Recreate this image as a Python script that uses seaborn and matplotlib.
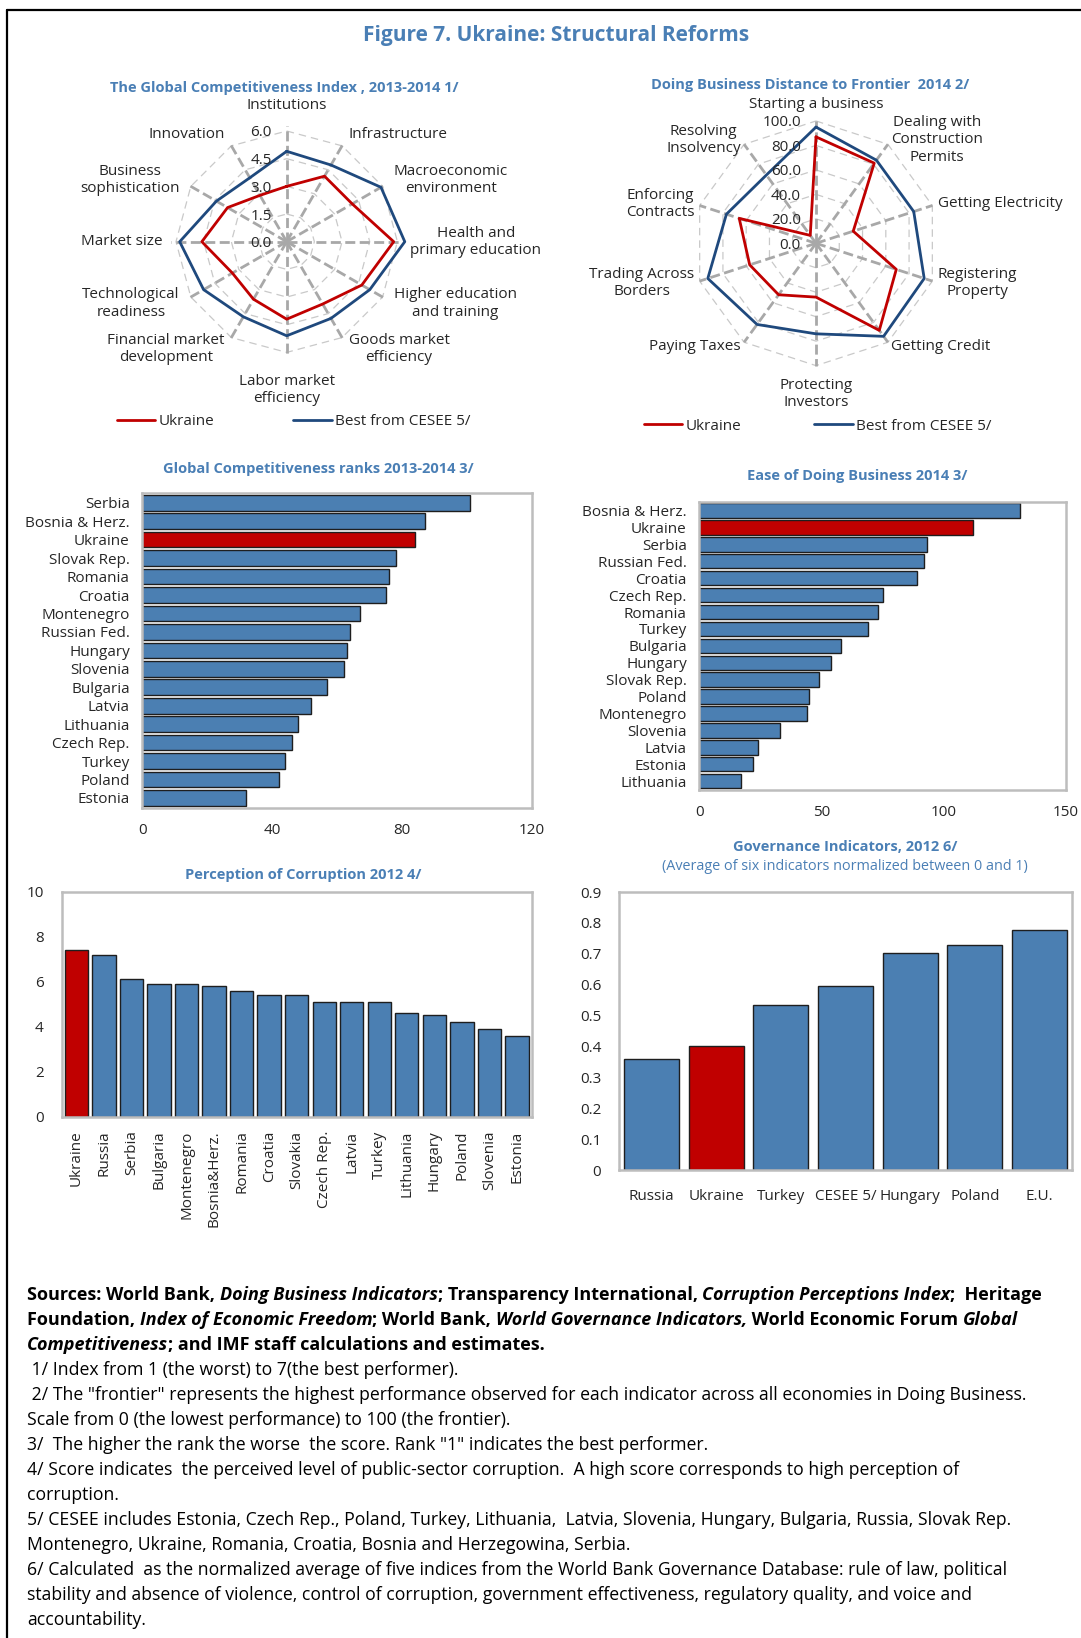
import numpy as np
import pandas as pd
import matplotlib
matplotlib.use("Agg")
import matplotlib.pyplot as plt
import matplotlib.transforms as mtransforms
from matplotlib.lines import Line2D
import seaborn as sns

# ---------------- data ----------------
gci_pillars = ["Institutions", "Infrastructure", "Macroeconomic\nenvironment",
               "Health and\nprimary education", "Higher education\nand training",
               "Goods market\nefficiency", "Labor market\nefficiency",
               "Financial market\ndevelopment", "Technological\nreadiness",
               "Market size", "Business\nsophistication", "Innovation"]
gci_ukraine = [3.0, 4.1, 4.1, 5.8, 4.7, 3.9, 4.2, 3.6, 3.4, 4.6, 3.7, 2.9]
gci_best = [4.9, 4.8, 5.9, 6.4, 5.2, 4.8, 5.1, 4.7, 5.2, 5.8, 4.4, 4.0]
gci_ticks = [0.0, 1.5, 3.0, 4.5, 6.0]

db_topics = ["Starting a business", "Dealing with\nConstruction\nPermits",
             "Getting Electricity", "Registering\nProperty", "Getting Credit",
             "Protecting\nInvestors", "Paying Taxes", "Trading Across\nBorders",
             "Enforcing\nContracts", "Resolving\nInsolvency"]
db_ukraine = [87, 81, 32, 69, 88, 44, 52, 57, 66, 8]
db_best = [95, 84, 84, 93, 94, 74, 82, 93, 77, 69]
db_ticks = [0, 20, 40, 60, 80, 100]

gcr_countries = ["Serbia", "Bosnia & Herz.", "Ukraine", "Slovak Rep.", "Romania",
                 "Croatia", "Montenegro", "Russian Fed.", "Hungary", "Slovenia",
                 "Bulgaria", "Latvia", "Lithuania", "Czech Rep.", "Turkey",
                 "Poland", "Estonia"]
gcr_ranks = [101, 87, 84, 78, 76, 75, 67, 64, 63, 62, 57, 52, 48, 46, 44, 42, 32]
gcr_xticks = [0, 40, 80, 120]

edb_countries = ["Bosnia & Herz.", "Ukraine", "Serbia", "Russian Fed.", "Croatia",
                 "Czech Rep.", "Romania", "Turkey", "Bulgaria", "Hungary",
                 "Slovak Rep.", "Poland", "Montenegro", "Slovenia", "Latvia",
                 "Estonia", "Lithuania"]
edb_ranks = [131, 112, 93, 92, 89, 75, 73, 69, 58, 54, 49, 45, 44, 33, 24, 22, 17]
edb_xticks = [0, 50, 100, 150]

cpi_countries = ["Ukraine", "Russia", "Serbia", "Bulgaria", "Montenegro",
                 "Bosnia&Herz.", "Romania", "Croatia", "Slovakia", "Czech Rep.",
                 "Latvia", "Turkey", "Lithuania", "Hungary", "Poland",
                 "Slovenia", "Estonia"]
cpi_scores = [7.4, 7.2, 6.1, 5.9, 5.9, 5.8, 5.6, 5.4, 5.4, 5.1, 5.1, 5.1, 4.6,
              4.5, 4.2, 3.9, 3.6]
cpi_yticks = [0, 2, 4, 6, 8, 10]

gov_labels = ["Russia", "Ukraine", "Turkey", "CESEE 5/", "Hungary", "Poland", "E.U."]
gov_scores = [0.36, 0.40, 0.535, 0.595, 0.703, 0.727, 0.777]
gov_yticks = [0, 0.1, 0.2, 0.3, 0.4, 0.5, 0.6, 0.7, 0.8, 0.9]

# ---------------- style ----------------
sns.set_style("white")
FONT = "Open Sans"
plt.rcParams["font.family"] = [FONT, "DejaVu Sans"]
FS = 11
SUB_FS = 10.5
TITLE_C = "#4a7fb5"
BLUE = "#4b7fb2"
RED = "#c00000"
NAVY = "#1f497d"
EDGE = "#1e1e1e"
FRAME = "#bdbdbd"

W, H = 1081, 1638
fig = plt.figure(figsize=(W / 100, H / 100), dpi=100)
fig.patch.set_facecolor("white")


def box(left, top, right, bottom):
    return [left / W, 1 - bottom / H, (right - left) / W, (bottom - top) / H]


def fx(x):
    return x / W


def fy(y):
    return 1 - y / H


# page frame (top and left rules)
fig.add_artist(Line2D([fx(7), 1.0], [fy(10), fy(10)], transform=fig.transFigure,
                      color="black", lw=1.6))
fig.add_artist(Line2D([fx(7), fx(7)], [0, fy(10)], transform=fig.transFigure,
                      color="black", lw=1.6))

fig.text(fx(556), fy(35), "Figure 7. Ukraine: Structural Reforms", ha="center",
         va="center", fontsize=15, fontweight="bold", color=TITLE_C)


# ---------------- radar charts ----------------
def radar(cx, cy, px_per_unit, rmax, labels, ukr, best, ticks, spoke_len,
          side_r, top_r, bottom_r, title, title_xy, legend_y, legend_x, colsp):
    half = rmax * px_per_unit
    ax = fig.add_axes(box(cx - half, cy - half, cx + half, cy + half),
                      projection="polar")
    ax.set_theta_zero_location("N")
    ax.set_theta_direction(-1)
    ax.set_ylim(0, rmax)
    ax.grid(False)
    ax.set_xticks([])
    ax.set_yticks([])
    ax.spines["polar"].set_visible(False)
    ax.patch.set_alpha(0)

    n = len(labels)
    theta = np.linspace(0, 2 * np.pi, n, endpoint=False)
    closed = np.append(theta, theta[0] + 2 * np.pi)

    for t in ticks[1:]:
        ax.plot(closed, [t] * (n + 1), color="#c9c9c9", lw=0.9,
                ls=(0, (6, 4)), zorder=1)
    for th in theta:
        ax.plot([th, th], [0, spoke_len], color="#a8a8a8", lw=2.0,
                ls=(0, (3.6, 1.6)), zorder=2)

    df = pd.DataFrame({
        "theta": np.concatenate([closed, closed]),
        "value": list(ukr) + [ukr[0]] + list(best) + [best[0]],
        "series": ["Ukraine"] * (n + 1) + ["Best from CESEE 5/"] * (n + 1),
    })
    sns.lineplot(data=df, x="theta", y="value", hue="series", sort=False,
                 estimator=None, palette={"Ukraine": RED, "Best from CESEE 5/": NAVY},
                 lw=2.0, legend=False, ax=ax, zorder=4)
    ax.set_xlabel("")
    ax.set_ylabel("")

    off = mtransforms.offset_copy(ax.transData, fig=fig, x=-15, y=-2, units="dots")
    for t in ticks:
        ax.text(0, t, f"{t:.1f}", transform=off, ha="right", va="center",
                fontsize=FS, color="#262626", zorder=5)

    for th, lab in zip(theta, labels):
        s, c = np.sin(th), np.cos(th)
        if abs(s) < 0.1:
            ha = "center"
            if c > 0:
                r, va = top_r, "bottom"
            else:
                r, va = bottom_r, "top"
        else:
            ha = "left" if s > 0 else "right"
            r, va = side_r, "center"
        ax.text(th, r, lab, ha=ha, va=va, multialignment="center",
                fontsize=FS, color="#262626", clip_on=False)

    fig.text(fx(title_xy[0]), fy(title_xy[1]), title, ha="center", va="center",
             fontsize=SUB_FS, fontweight="bold", color=TITLE_C)

    handles = [Line2D([], [], color=RED, lw=2.0), Line2D([], [], color=NAVY, lw=2.0)]
    fig.legend(handles, ["Ukraine", "Best from CESEE 5/"], loc="center left",
               bbox_to_anchor=(fx(legend_x), fy(legend_y)), ncol=2, frameon=False,
               handlelength=2.5, handletextpad=0.2, columnspacing=colsp,
               borderpad=0, borderaxespad=0, fontsize=FS)


radar(286.7, 241.7, 18.45, 7.0, gci_pillars, gci_ukraine, gci_best, gci_ticks,
      6.25, 6.7, 6.95, 7.15,
      "The Global Competitiveness Index , 2013-2014 1/", (284, 88),
      421.7, 117, 5.2)
radar(816, 243.3, 1.2233, 115, db_topics, db_ukraine, db_best, db_ticks,
      100, 104.5, 107.5, 110,
      "Doing Business Distance to Frontier  2014 2/", (810, 85),
      426, 644, 4.8)


# ---------------- bar charts ----------------
def frame(ax):
    for sp in ax.spines.values():
        sp.set_visible(True)
        sp.set_color(FRAME)
        sp.set_linewidth(1.8)


def hbar(pxbox, cats, vals, xticks, title, title_xy, pad_top):
    ax = fig.add_axes(box(*pxbox))
    df = pd.DataFrame({"country": cats, "value": vals})
    pal = {c: (RED if c == "Ukraine" else BLUE) for c in cats}
    sns.barplot(data=df, y="country", x="value", hue="country", palette=pal,
                legend=False, orient="h", width=0.85, edgecolor=EDGE,
                linewidth=1.0, saturation=1, ax=ax)
    ax.set_xlim(xticks[0], xticks[-1])
    ax.set_ylim(len(cats) - 1 + pad_top, -pad_top)
    ax.set_xticks(xticks)
    ax.set_xlabel("")
    ax.set_ylabel("")
    ax.tick_params(axis="x", direction="in", length=4, color=FRAME, labelsize=FS,
                   pad=11, labelcolor="#262626")
    ax.tick_params(axis="y", length=0, labelsize=FS, pad=9, labelcolor="#262626")
    frame(ax)
    fig.text(fx(title_xy[0]), fy(title_xy[1]), title, ha="center", va="center",
             fontsize=SUB_FS, fontweight="bold", color=TITLE_C)
    return ax


hbar((142.3, 492.7, 532, 808), gcr_countries, gcr_ranks, gcr_xticks,
     "Global Competitiveness ranks 2013-2014 3/", (318, 469), 0.545)
hbar((699.3, 501.7, 1066, 790), edb_countries, edb_ranks, edb_xticks,
     "Ease of Doing Business 2014 3/", (857, 476), 0.52)


def vbar(pxbox, cats, vals, yticks, fmt, rotate, pad_side):
    ax = fig.add_axes(box(*pxbox))
    df = pd.DataFrame({"country": cats, "value": vals})
    pal = {c: (RED if c == "Ukraine" else BLUE) for c in cats}
    sns.barplot(data=df, x="country", y="value", hue="country", palette=pal,
                legend=False, width=0.85, edgecolor=EDGE, linewidth=1.0,
                saturation=1, ax=ax)
    n = len(cats)
    ax.set_xlim(-pad_side, n - 1 + pad_side)
    ax.set_ylim(yticks[0], yticks[-1])
    ax.set_yticks(yticks)
    ax.set_yticklabels([fmt(v) for v in yticks])
    ax.set_xlabel("")
    ax.set_ylabel("")
    ax.set_xticks(np.arange(-0.5, n, 1.0), minor=True)
    ax.tick_params(axis="x", which="major", length=0, labelsize=FS,
                   rotation=90 if rotate else 0, pad=10 if rotate else 14,
                   labelcolor="#262626")
    ax.tick_params(axis="x", which="minor", direction="in", length=4, color=FRAME)
    ax.tick_params(axis="y", direction="in", length=4, color=FRAME, labelsize=FS,
                   pad=13, labelcolor="#262626")
    frame(ax)
    return ax


vbar((61.7, 891.7, 531.7, 1116.7), cpi_countries, cpi_scores, cpi_yticks,
     lambda v: f"{v:d}", True, 0.54)
fig.text(fx(303), fy(875), "Perception of Corruption 2012 4/", ha="center",
         va="center", fontsize=SUB_FS, fontweight="bold", color=TITLE_C)

vbar((619.3, 892, 1071.7, 1170), gov_labels, gov_scores, gov_yticks,
     lambda v: "0" if v == 0 else f"{v:.1f}", False, 0.5)
fig.text(fx(845), fy(846.7), "Governance Indicators, 2012 6/", ha="center",
         va="center", fontsize=SUB_FS, fontweight="bold", color=TITLE_C)
fig.text(fx(844.5), fy(866.7),
         "(Average of six indicators normalized between 0 and 1)", ha="center",
         va="center", fontsize=10.4, color=TITLE_C)

# ---------------- sources and notes ----------------
renderer = fig.canvas.get_renderer()
NOTE_FS = 12.7
SRC_FS = 13.0


def seg_width(s, **kw):
    t1 = fig.text(0, 0, "X" + s + "X", **kw)
    t0 = fig.text(0, 0, "XX", **kw)
    w = t1.get_window_extent(renderer).width - t0.get_window_extent(renderer).width
    t1.remove()
    t0.remove()
    return w


def rich_line(x, y, segments):
    for s, style in segments:
        kw = {"fontweight": "bold", "fontsize": SRC_FS}
        if style == "bi":
            kw["fontstyle"] = "italic"
        fig.text(fx(x), fy(y), s, ha="left", va="center", color="black", **kw)
        x += seg_width(s, **kw)


src_lines = [
    [("Sources: World Bank, ", "b"), ("Doing Business Indicators", "bi"),
     ("; Transparency International, ", "b"), ("Corruption Perceptions Index", "bi"),
     (";  Heritage", "b")],
    [("Foundation, ", "b"), ("Index of Economic Freedom", "bi"), ("; World Bank, ", "b"),
     ("World Governance Indicators,", "bi"), (" World Economic Forum ", "b"),
     ("Global", "bi")],
    [("Competitiveness", "bi"), ("; and IMF staff calculations and estimates.", "b")],
]
note_lines = [
    " 1/ Index from 1 (the worst) to 7(the best performer).",
    " 2/ The \"frontier\" represents the highest performance observed for each indicator across all economies in Doing Business.",
    "Scale from 0 (the lowest performance) to 100 (the frontier).",
    "3/  The higher the rank the worse  the score. Rank \"1\" indicates the best performer.",
    "4/ Score indicates  the perceived level of public-sector corruption.  A high score corresponds to high perception of",
    "corruption.",
    "5/ CESEE includes Estonia, Czech Rep., Poland, Turkey, Lithuania,  Latvia, Slovenia, Hungary, Bulgaria, Russia, Slovak Rep.",
    "Montenegro, Ukraine, Romania, Croatia, Bosnia and Herzegowina, Serbia.",
    "6/ Calculated  as the normalized average of five indices from the World Bank Governance Database: rule of law, political",
    "stability and absence of violence, control of corruption, government effectiveness, regulatory quality, and voice and",
    "accountability.",
]

y0, dy = 1295.3, 25.0
for i, segs in enumerate(src_lines):
    rich_line(27, y0 + i * dy, segs)
for j, line in enumerate(note_lines):
    fig.text(fx(27), fy(y0 + (3 + j) * dy), line, ha="left", va="center",
             fontsize=NOTE_FS, color="black")

fig.savefig("out.png", dpi=100, facecolor="white")
